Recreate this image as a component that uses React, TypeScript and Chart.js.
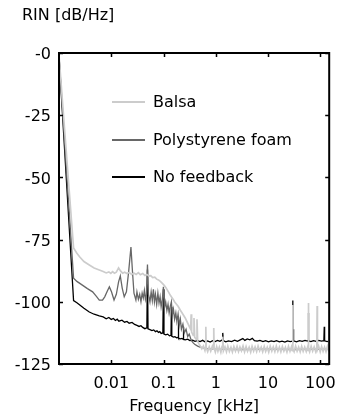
import React, { useEffect, useRef } from 'react';
import { Chart, registerables } from 'chart.js';

Chart.register(...registerables);

// ---- Data (frequency in kHz, RIN in dB/Hz) ----
const seriesLabels = ['Balsa', 'Polystyrene foam', 'No feedback'];
const seriesColors = ['#cccccc', '#676767', '#000000'];
const seriesWidths = [1.7, 1.3, 1.3];

const balsaFreq = [
  0.001, 0.0019, 0.0022, 0.0025, 0.003, 0.0038, 0.0047, 0.0059, 0.007, 0.008, 0.009, 0.0098, 0.0106, 0.0115,
  0.0125, 0.0138, 0.015, 0.0165, 0.018, 0.02, 0.022, 0.0245, 0.027, 0.03, 0.033, 0.036, 0.04, 0.044, 0.048,
  0.052, 0.057, 0.062, 0.068, 0.074, 0.08, 0.087, 0.095, 0.103, 0.112, 0.124, 0.137, 0.15, 0.165, 0.19, 0.21,
  0.235, 0.26, 0.29, 0.32, 0.33, 0.338, 0.345, 0.37, 0.383, 0.395, 0.42, 0.437, 0.45, 0.48,
  0.5, 0.54, 0.58, 0.62, 0.635, 0.645, 0.655, 0.7, 0.75, 0.8, 0.86, 0.9, 0.915, 0.93, 0.98, 1.04, 1.1, 1.17,
  1.25, 1.32, 1.36, 1.4, 1.5, 1.6, 1.7, 1.82, 1.95, 2.08, 2.22, 2.38, 2.55, 2.72, 2.9, 3.1, 3.32, 3.55, 3.8,
  4.05, 4.35, 4.65, 4.95, 5.3, 5.65, 6.05, 6.45, 6.9, 7.4, 7.9, 8.45, 9.0, 9.65, 10.3, 11.0, 11.8, 12.6, 13.5,
  14.4, 15.4, 16.5, 17.6, 18.8, 20.1, 21.5, 23, 24.6, 26.3, 28.1, 29.2, 29.6, 30.0, 31.5, 33.7, 36, 38.5,
  41.2, 44, 47, 50.3, 53.8, 57.5, 58.6, 59.2, 59.8, 62.5, 66.8, 71.4, 76.3, 81.5, 85.8, 87, 88.2, 93, 99.5,
  106, 113, 120.5, 128.5, 137, 144, 146.5, 148,
];
const balsaDb = [
  -1, -78.4, -80.5, -82, -83.8, -85.2, -86.4, -87.2, -87.8, -88.4, -88.0, -88.6, -87.9, -88.5,
  -88.1, -86.4, -87.6, -88.5, -88.1, -88.6, -88.2, -89.0, -88.4, -89.0, -88.3, -89.1, -88.6, -89.4, -89.0,
  -89.6, -89.5, -90.3, -90.1, -90.9, -91.2, -91.8, -92.6, -93.4, -94.4, -96.0, -97.6, -98.8, -100.2, -101.8, -103.4,
  -105.0, -106.5, -108.6, -110.5, -111.0, -105, -112.2, -113.5, -106.5, -114.2, -115.0, -107, -116.0, -117.0,
  -117.6, -118.9, -117.8, -119.6, -118.5, -110, -118.3, -120.0, -118.1, -119.8, -117.9, -119.0, -110.5, -118.6, -120.2, -118.0, -119.9, -118.2,
  -120.3, -117.9, -114, -119.7, -118.1, -120.1, -117.8, -119.9, -118.3, -120.2, -118.0, -119.8, -117.9, -120.0, -118.2, -119.7, -117.8, -120.1, -118.0,
  -119.9, -118.3, -120.2, -117.9, -119.8, -118.1, -120.0, -117.8, -119.7, -118.2, -120.1, -118.0, -119.9, -118.3, -120.2, -117.9, -119.8, -118.1, -120.0,
  -117.8, -119.9, -118.2, -120.1, -118.0, -119.8, -118.3, -120.2, -117.9, -119.9, -118.1, -119.6, -101.3, -118.8, -120.0, -117.8, -119.8, -118.2,
  -120.1, -117.9, -119.9, -118.2, -120.0, -118.0, -119.5, -100.5, -118.7, -120.1, -117.9, -119.8, -118.1, -120.0, -118.3, -101.7, -119.2, -117.9, -120.1,
  -118.0, -119.9, -118.2, -120.0, -117.9, -119.6, -101, -119.0,
];

const foamFreq = [
  0.001, 0.0019, 0.0022, 0.0028, 0.0035, 0.0044, 0.0052, 0.0059, 0.0068, 0.0075, 0.0085, 0.0092, 0.0101, 0.0113,
  0.0125, 0.0138, 0.0149, 0.0162, 0.0177, 0.0195, 0.0215, 0.0238, 0.0255, 0.0272, 0.0296, 0.031, 0.033, 0.035,
  0.037, 0.039, 0.041, 0.043, 0.045, 0.047, 0.0493, 0.0515, 0.055, 0.058, 0.061, 0.064, 0.067, 0.07, 0.074,
  0.078, 0.082, 0.086, 0.09, 0.095, 0.0995, 0.104, 0.11, 0.116, 0.122, 0.128, 0.134, 0.1415, 0.147, 0.155,
  0.163, 0.172, 0.18, 0.19, 0.2, 0.21, 0.22, 0.235, 0.25, 0.27, 0.29, 0.31, 0.34, 0.37, 0.4, 0.45, 0.5, 0.7,
  1.0, 3, 10, 30, 100, 148,
];
const foamDb = [
  -1, -90.5, -91.8, -93.3, -94.7, -96.0, -97.8, -99.3, -99.3, -98, -95.5, -94.0, -96.0, -99.3,
  -97.0, -92, -89.6, -94.5, -98.0, -96.0, -88, -78.0, -88, -96.5, -99.3, -96.0, -99.0, -97.0,
  -100.0, -96.5, -98.5, -95.5, -99.0, -97.0, -85.0, -97.0, -100.0, -96.0, -99.5, -95.0, -100.0, -97.0, -101.0,
  -96.5, -100.5, -98.0, -102.0, -99.0, -94.0, -102.5, -100.0, -103.5, -101.0, -104.5, -102.0, -100.0, -105.5, -103.0,
  -107.0, -104.5, -108.0, -105.0, -109.5, -107.0, -111.0, -109.0, -112.5, -111.0, -114.0, -113.0, -115.5, -116.5, -117.2, -117.8, -118.2, -118.8,
  -119.0, -119.2, -119.0, -119.2, -119.0, -119.1,
];

const noFbFreq = [
  0.001, 0.0019, 0.0022, 0.0025, 0.003, 0.0038, 0.0047, 0.0059, 0.007, 0.008, 0.009, 0.01, 0.011, 0.012,
  0.013, 0.014, 0.016, 0.018, 0.02, 0.022, 0.025, 0.028, 0.031, 0.034, 0.037, 0.04, 0.044, 0.048, 0.0493,
  0.0505, 0.055, 0.06, 0.065, 0.07, 0.075, 0.08, 0.085, 0.09, 0.097, 0.0995, 0.102, 0.11, 0.12, 0.13, 0.139,
  0.1415, 0.144, 0.155, 0.165, 0.178, 0.19, 0.192, 0.195, 0.21, 0.225, 0.237, 0.24, 0.243, 0.26, 0.29, 0.32,
  0.36, 0.4, 0.45, 0.5, 0.56, 0.62, 0.7, 0.78, 0.87, 0.97, 1.08, 1.2, 1.33, 1.36, 1.39, 1.55, 1.75, 2.0, 2.3,
  2.6, 3.0, 3.3, 3.6, 4.0, 4.5, 5.0, 5.5, 6.2, 7.0, 8.0, 9.0, 10.2, 11.5, 13, 14.5, 16.5, 18.5, 21, 23.5,
  26.5, 29.2, 29.6, 30.0, 30.4, 30.8, 35, 40, 45, 51, 57, 58.6, 59.2, 59.8, 66, 74, 83, 93, 105, 117, 119,
  121, 135, 148,
];
const noFbDb = [
  -1, -99.5, -100.4, -101.3, -102.6, -104.1, -105.0, -105.7, -106.1, -106.8, -106.3, -107.1, -106.7, -107.5,
  -107.0, -107.8, -107.4, -108.2, -107.9, -108.6, -108.3, -109.1, -109.5, -109.9, -109.6, -110.3, -110.8, -110.5, -87,
  -110.9, -111.2, -111.6, -111.3, -112.0, -111.7, -112.3, -112.0, -112.7, -112.5, -95, -113.0, -113.3, -113.0, -113.7, -113.5,
  -102, -113.9, -114.2, -114.0, -114.5, -114.3, -106, -114.6, -114.9, -114.7, -115.0, -110, -115.1, -115.3, -115.0, -115.6,
  -115.4, -115.9, -115.6, -116.0, -115.5, -116.1, -115.7, -116.2, -115.6, -116.0, -115.5, -115.9, -115.3, -112.5, -115.6, -116.1, -115.7, -116.0, -115.4,
  -115.9, -115.2, -114.8, -115.5, -114.9, -115.3, -114.7, -115.6, -115.8, -115.5, -116.0, -115.6, -116.1, -115.7, -116.0, -115.6, -116.1, -115.8, -116.2, -115.7,
  -116.0, -115.8, -99.5, -115.9, -111, -115.7, -116.1, -115.6, -115.9, -115.5, -115.8, -115.6, -104.5, -115.7, -116.0, -115.6, -115.9, -115.5, -115.8, -115.6, -110,
  -115.7, -116.0, -115.8,
];

// ---- Axes ----
const xMin = 0.001;
const xMax = 148;
const xTickValues = [0.01, 0.1, 1, 10, 100];
const xTickLabels = ['0.01', '0.1', '1', '10', '100'];
const yTickValues = [-125, -100, -75, -50, -25, 0];
const yTickLabels = ['-125', '-100', '-75', '-50', '-25', '-0'];
const xTitle = 'Frequency [kHz]';
const yTitle = 'RIN [dB/Hz]';

const FONT = "'DejaVu Sans', sans-serif";

const toPoints = (f: number[], v: number[]) => f.map((x, i) => ({ x, y: v[i] }));

const framePlugin = {
  id: 'frameTicks',
  afterDatasetsDraw(chart: any) {
    const { ctx, chartArea, scales } = chart;
    const { left, right, top, bottom } = chartArea;
    const tl = 4;
    ctx.save();
    ctx.strokeStyle = '#000';
    ctx.lineWidth = 1.5;
    ctx.beginPath();
    xTickValues.forEach((v) => {
      const px = Math.round(scales.x.getPixelForValue(v)) + 0.5;
      ctx.moveTo(px, bottom);
      ctx.lineTo(px, bottom - tl);
      ctx.moveTo(px, top);
      ctx.lineTo(px, top + tl);
    });
    yTickValues.forEach((v) => {
      const py = Math.round(scales.y.getPixelForValue(v)) + 0.5;
      ctx.moveTo(left, py);
      ctx.lineTo(left + tl, py);
      ctx.moveTo(right, py);
      ctx.lineTo(right - tl, py);
    });
    ctx.stroke();
    ctx.lineWidth = 2;
    ctx.strokeRect(left, top, right - left, bottom - top);
    ctx.restore();
  },
};

const legendPlugin = {
  id: 'insideLegend',
  afterDatasetsDraw(chart: any) {
    const { ctx } = chart;
    const rows = [102, 140, 177];
    ctx.save();
    ctx.font = `16px ${FONT}`;
    ctx.textBaseline = 'middle';
    ctx.textAlign = 'left';
    chart.data.datasets.forEach((ds: any, i: number) => {
      const y = rows[i];
      ctx.strokeStyle = ds.borderColor;
      ctx.lineWidth = 2;
      ctx.beginPath();
      ctx.moveTo(112, y);
      ctx.lineTo(145, y);
      ctx.stroke();
      ctx.fillStyle = '#000';
      ctx.fillText(ds.label, 153, y + 1);
    });
    ctx.restore();
  },
};

const yTitlePlugin = {
  id: 'yTitleTop',
  afterDraw(chart: any) {
    const { ctx } = chart;
    ctx.save();
    ctx.font = `16px ${FONT}`;
    ctx.fillStyle = '#000';
    ctx.textBaseline = 'middle';
    ctx.textAlign = 'left';
    ctx.fillText(yTitle, 22, 16);
    ctx.restore();
  },
};

export default function App() {
  const ref = useRef<HTMLCanvasElement>(null);

  useEffect(() => {
    document.body.style.margin = '0';
    const canvas = ref.current;
    if (!canvas) return;
    Chart.defaults.font.family = FONT;
    Chart.defaults.font.size = 16;
    Chart.defaults.color = '#000';

    const series = [
      toPoints(balsaFreq, balsaDb),
      toPoints(foamFreq, foamDb),
      toPoints(noFbFreq, noFbDb),
    ];

    const chart = new Chart(canvas, {
      type: 'line',
      data: {
        datasets: series.map((pts, i) => ({
          label: seriesLabels[i],
          data: pts,
          borderColor: seriesColors[i],
          backgroundColor: seriesColors[i],
          borderWidth: seriesWidths[i],
          pointRadius: 0,
          tension: 0,
          fill: false,
        })),
      },
      options: {
        responsive: false,
        animation: false,
        devicePixelRatio: 1,
        layout: { padding: { top: 53, right: 13, left: 0, bottom: 0 } },
        plugins: {
          legend: { display: false },
          tooltip: { enabled: false },
          title: { display: false },
        },
        scales: {
          x: {
            type: 'logarithmic',
            min: xMin,
            max: xMax,
            grid: { display: false, drawTicks: false },
            border: { display: false },
            afterBuildTicks: (scale: any) => {
              scale.ticks = xTickValues.map((v) => ({ value: v }));
            },
            afterFit: (scale: any) => {
              scale.height = 53;
            },
            ticks: {
              autoSkip: false,
              maxRotation: 0,
              padding: 10,
              font: { size: 16, family: FONT },
              color: '#000',
              callback: (v: any) => xTickLabels[xTickValues.indexOf(Number(v))] ?? '',
            },
            title: {
              display: true,
              text: xTitle,
              font: { size: 16, family: FONT },
              color: '#000',
              padding: { top: 0, bottom: 1 },
            },
          },
          y: {
            type: 'linear',
            min: -125,
            max: 0,
            grid: { display: false, drawTicks: false },
            border: { display: false },
            afterBuildTicks: (scale: any) => {
              scale.ticks = yTickValues.map((v) => ({ value: v }));
            },
            afterFit: (scale: any) => {
              scale.width = 59;
            },
            ticks: {
              padding: 8,
              labelOffset: 2,
              font: { size: 16, family: FONT },
              color: '#000',
              callback: (v: any) => yTickLabels[yTickValues.indexOf(Number(v))] ?? '',
            },
          },
        },
      },
      plugins: [framePlugin, legendPlugin, yTitlePlugin],
    });

    return () => chart.destroy();
  }, []);

  return (
    <div style={{ width: 346, height: 417 }}>
      <canvas ref={ref} width={346} height={417} style={{ display: 'block' }} />
    </div>
  );
}
